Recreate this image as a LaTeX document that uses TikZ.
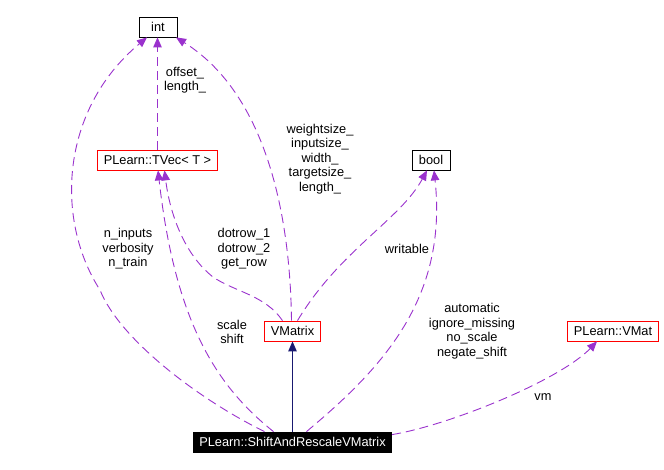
\documentclass[tikz,border=0pt]{standalone}
\usepackage{fontspec}
\setmainfont{Liberation Sans}
\usetikzlibrary{arrows.meta}
\definecolor{usepurple}{HTML}{9A32CD}
\definecolor{basenavy}{HTML}{191970}
\definecolor{docred}{HTML}{FF0000}

\begin{document}
\begin{tikzpicture}[
    x=1pt, y=-1pt,
    cls/.style={
      draw=black,
      line width=0.8pt,
      fill=white,
      font=\fontsize{12.8}{14.5}\selectfont,
      inner xsep=6pt,
      inner ysep=0pt,
      minimum height=20pt,
      minimum width=38pt,
    },
    documented/.style={cls, draw=docred},
    focus/.style={cls, fill=black, text=white},
    lbl/.style={font=\fontsize{12.8}{14.5}\selectfont, align=center, inner sep=0pt},
    uses/.style={
      -{Triangle[length=10pt,width=8.5pt]},
      line width=0.9pt,
      draw=usepurple,
      dash pattern=on 9pt off 5pt,
    },
    inherits/.style={
      -{Triangle[length=10pt,width=8.5pt]},
      line width=0.9pt,
      draw=basenavy,
    },
  ]
    \useasboundingbox (0,0) rectangle (664,470);

    \node[cls] (int) at (158,27) {int};
    \node[documented] (tvec) at (157.5,160) {PLearn::TVec< T >};
    \node[cls] (bool) at (431,160) {bool};
    \node[documented] (vmatrix) at (292.5,331) {VMatrix};
    \node[documented] (vmat) at (613,331) {PLearn::VMat};
    \node[focus] (srvm) at (292.5,442) {PLearn::ShiftAndRescaleVMatrix};

    \node[lbl] (lbloffset) at (185,80) {offset\_\\length\_};
    \node[lbl] (lblsizes) at (320,159) {weightsize\_\\inputsize\_\\width\_\\targetsize\_\\length\_};
    \node[lbl] (lblinputs) at (128,249) {n\_inputs\\verbosity\\n\_train};
    \node[lbl] (lbldotrow) at (244,249) {dotrow\_1\\dotrow\_2\\get\_row};
    \node[lbl] (lblscale) at (232,332) {scale\\shift};
    \node[lbl] (lblwritable) at (407,249) {writable};
    \node[lbl] (lblflags) at (472,331) {automatic\\ignore\_missing\\no\_scale\\negate\_shift};
    \node[lbl] (lblvm) at (543,397) {vm};

    \draw[uses] ([xshift=-28pt]srvm.north) .. controls (200,400) and (120,340) .. (100,290)
      .. controls (55,220) and (60,110) .. ([xshift=-11pt]int.south);
    \draw[uses] ([xshift=-19pt]srvm.north) .. controls (215,385) and (175,320) .. ([xshift=0.5pt]tvec.south);
    \draw[uses] ([xshift=-10pt]vmatrix.north) .. controls (265,295) and (235,292) .. (213,277)
      .. controls (185,255) and (170,215) .. ([xshift=7pt]tvec.south);
    \draw[uses] ([xshift=-1pt]vmatrix.north) .. controls (290,200) and (260,90) .. ([xshift=18pt]int.south);
    \draw[uses] (tvec.north) -- (tvec.north |- int.south);
    \draw[uses] ([xshift=5pt]vmatrix.north) .. controls (340,250) and (400,220) .. ([xshift=-4pt]bool.south);
    \draw[uses] ([xshift=14pt]srvm.north) .. controls (380,370) and (448,300) .. ([xshift=3pt]bool.south);
    \draw[uses] ([yshift=-3pt]srvm.north east) .. controls (450,425) and (560,380) .. ([xshift=-16pt]vmat.south);
    \draw[inherits] (srvm.north) -- (srvm.north |- vmatrix.south);
  \end{tikzpicture}
\end{document}
